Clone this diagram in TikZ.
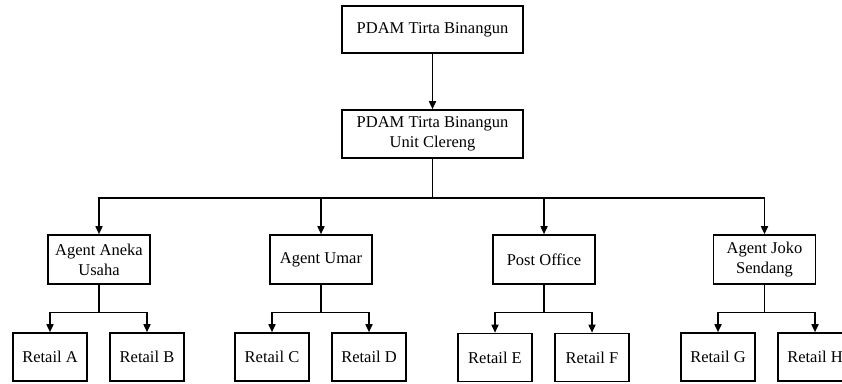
\documentclass[tikz,border=0pt]{standalone}
\usepackage{fontspec}
\setmainfont{Liberation Serif}
\usetikzlibrary{arrows.meta}
\begin{document}
\begin{tikzpicture}[x=1pt,y=-1pt,
 box/.style={draw,line width=1.6pt,inner sep=0pt,align=center,font=\fontsize{16.5}{20}\selectfont},
 topbox/.style={box,minimum width=181pt,minimum height=47pt},
 agent/.style={box,minimum width=102pt,minimum height=49pt},
 retail/.style={box,minimum width=74pt,minimum height=48pt},
 arr/.style={line width=1.6pt,-{Triangle[length=8pt,width=7pt]}}]
\useasboundingbox (0,0) rectangle (842,383);
\clip (0,0) rectangle (842,383);
\node[topbox] (top) at (432.5,29.5) {PDAM Tirta Binangun};
\node[topbox,minimum height=48pt] (unit) at (432.5,134) {PDAM Tirta Binangun\\Unit Clereng};
\node[agent] (aneka) at (99,259.5) {Agent Aneka\\Usaha};
\node[agent] (umar) at (321,259.5) {Agent Umar};
\node[agent] (post) at (544,259.5) {Post Office};
\node[agent] (joko) at (764.5,259.5) {Agent Joko\\Sendang};
\node[retail] (ra) at (50,357) {Retail A};
\node[retail] (rb) at (147,357) {Retail B};
\node[retail] (rc) at (272,357) {Retail C};
\node[retail] (rd) at (369,357) {Retail D};
\node[retail] (re) at (495,357.5) {Retail E};
\node[retail] (rf) at (592,357.5) {Retail F};
\node[retail] (rg) at (718,357) {Retail G};
\node[retail] (rh) at (815,357) {Retail H};
\draw[arr] (top) -- (unit);
\foreach \c in {aneka,umar,post,joko}
  \draw[arr] (unit.south) -- ++(0,39) -| (\c.north);
\foreach \p/\a/\b in {aneka/ra/rb,umar/rc/rd,post/re/rf,joko/rg/rh}{
  \draw[arr] (\p.south) -- ++(0,27.5) -| (\a.north);
  \draw[arr] (\p.south) -- ++(0,27.5) -| (\b.north);
}
\end{tikzpicture}
\end{document}
